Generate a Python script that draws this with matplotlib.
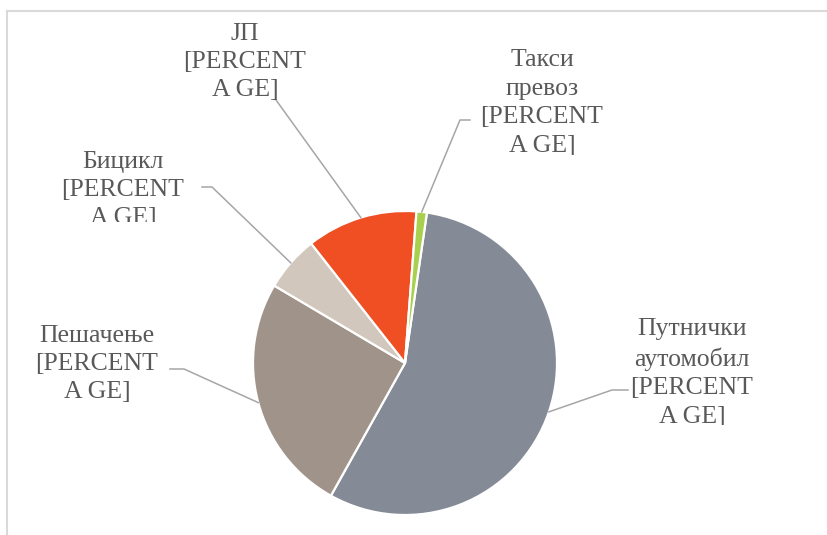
import matplotlib.pyplot as plt
from matplotlib.transforms import Bbox, TransformedBbox
import numpy as np

# data (share of trips by mode)
labels = ["Путнички\nаутомобил", "Пешачење", "Бицикл", "ЈП", "Такси\nпревоз"]
values = [55.8, 25.4, 5.9, 11.8, 1.1]
colors = ["#848b96", "#a09389", "#d2c7bd", "#ef4f23", "#a8d04e"]

W, H = 827, 535
cx, cy, r = 405, H - 363, 152

fig = plt.figure(figsize=(8.27, 5.35), dpi=100)
ax = fig.add_axes([0, 0, 1, 1])

wedges, _ = ax.pie(values, colors=colors, startangle=81.7, counterclock=False,
                   center=(cx, cy), radius=r,
                   wedgeprops=dict(edgecolor="white", linewidth=1.6))

ax.set_xlim(0, W)
ax.set_ylim(0, H)
ax.set_aspect("equal")
ax.axis("off")

# chart area border (only top and left visible)
ax.plot([7, W + 5], [H - 11, H - 11], color="#d9d9d9", lw=1.5)
ax.plot([7, 7], [H - 11, -5], color="#d9d9d9", lw=1.5)

# label layout: text center x, block center y, elbow point, line end, clip bottom (pixels from top)
text_pos = [(692, 373), (97, 364), (123, 190), (245, 62), (542, 103)]
elbows = [(612, 390), (184, 369), (212, 187), None, (460, 120)]
ends = [(628, 390), (170, 369), (202, 187), (276, 100), (470, 120)]
clip_bottom = [425, 405, 222, 110, 155]

for w, lab, (tx, ty), elb, end, cb in zip(wedges, labels, text_pos, elbows, ends, clip_bottom):
    mid = np.deg2rad((w.theta1 + w.theta2) / 2)
    px = cx + r * np.cos(mid)
    py = cy + r * np.sin(mid)
    xs, ys = [px], [py]
    if elb is not None:
        xs.append(elb[0])
        ys.append(H - elb[1])
    xs.append(end[0])
    ys.append(H - end[1])
    ax.plot(xs, ys, color="#a6a6a6", lw=1.1)

    t = ax.text(tx, H - ty, lab + "\n[PERCENT\nA GE]", ha="center", va="center",
                fontsize=18.5, family="Liberation Serif", color="#595959",
                linespacing=1.38)
    t.set_clip_box(TransformedBbox(Bbox.from_extents(0, H - cb, W, H), ax.transData))
    t.set_clip_on(True)

fig.savefig("out.png", dpi=100)
